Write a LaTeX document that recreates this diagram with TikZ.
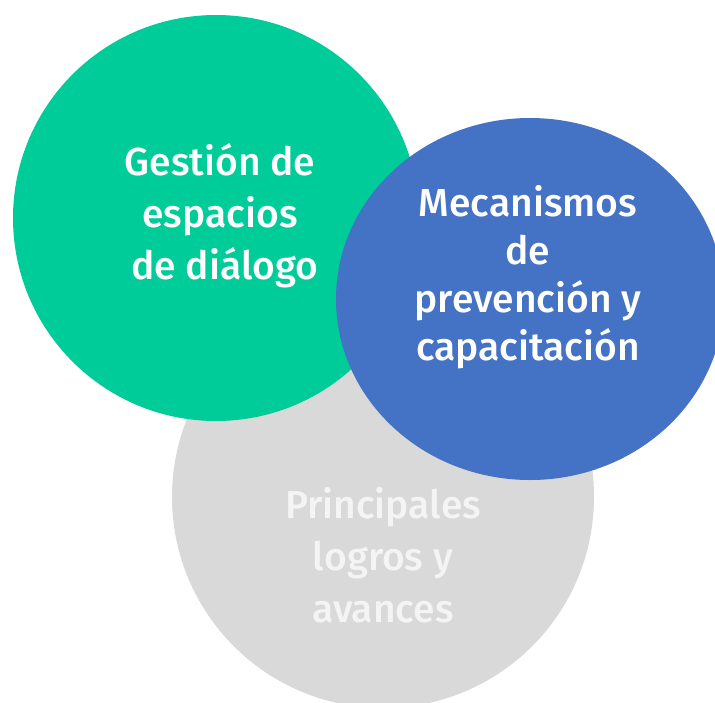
\documentclass[tikz,border=0pt]{standalone}
\usepackage{fontspec}
\setmainfont{Fira Sans}[UprightFont=* Medium]
\definecolor{cgreen}{HTML}{00CC99}
\definecolor{cblue}{HTML}{4472C4}
\definecolor{cgrey}{HTML}{D9D9D9}
\definecolor{cgreytext}{HTML}{F4F4F4}
\tikzset{
  lbl/.style={align=center, font=\fontsize{39}{52}\selectfont, inner sep=0pt},
  lblb/.style={align=center, font=\fontsize{39}{48}\selectfont, inner sep=0pt},
}
\begin{document}
\begin{tikzpicture}[x=1pt,y=-1pt]
\useasboundingbox (0,0) rectangle (715,702);
\clip (0,0) rectangle (715,702);
\fill[cgrey] (383,497) circle[radius=211];
\fill[cgreen] (216,218) circle[radius=203];
\fill[cblue] (530,299) ellipse[x radius=194, y radius=181];
\node[lbl, text=white] (g) at (220,216) {Gestión de\\espacios\\\ de diálogo};
\node[lblb, text=white] (b) at (528,277) {Mecanismos\\de\\prevención y\\capacitación};
\node[lbl, text=cgreytext] (p) at (383,555) {Principales\\logros y\\avances};
\end{tikzpicture}
\end{document}
